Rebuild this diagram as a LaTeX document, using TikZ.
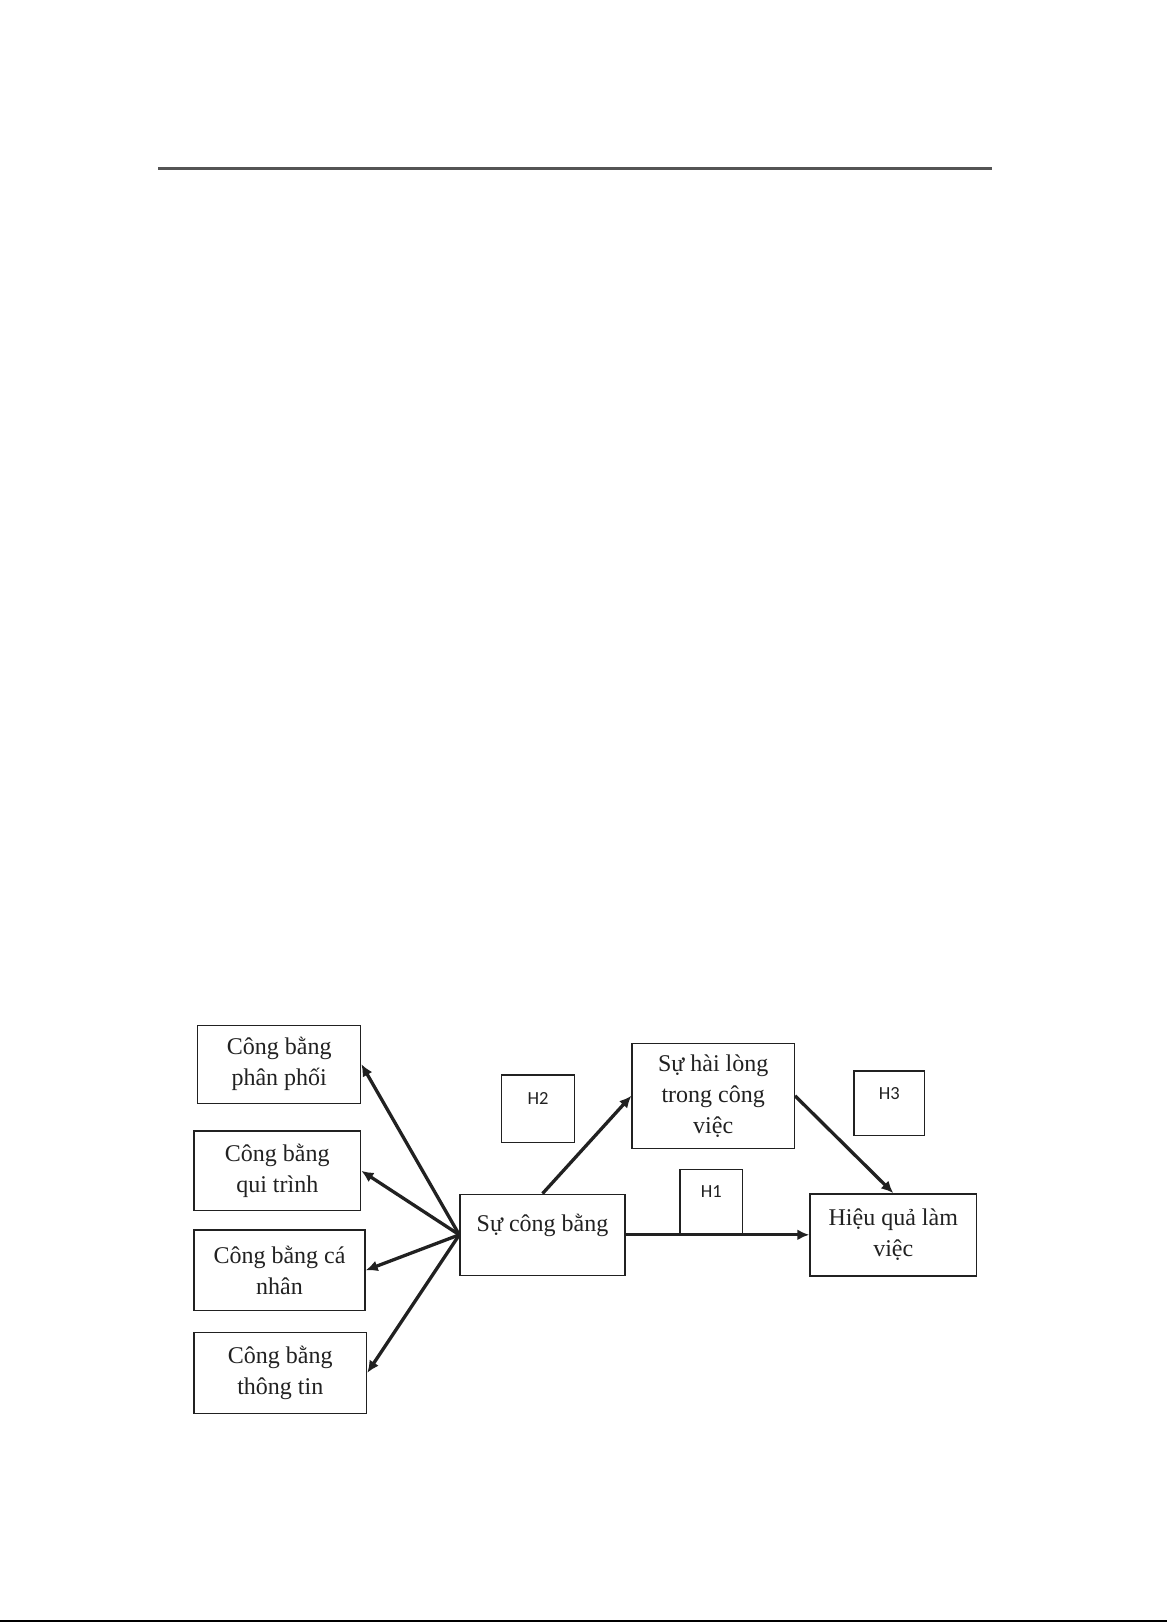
\documentclass[tikz,border=0pt]{standalone}
\usepackage{fontspec}
\setmainfont{Liberation Serif}
\newfontfamily\hfont{Carlito}
\usetikzlibrary{arrows.meta}
\definecolor{ink}{rgb}{0.13,0.13,0.13}
\definecolor{rule}{rgb}{0.33,0.33,0.33}
\begin{document}
\begin{tikzpicture}[x=1pt,y=-1pt,
  box/.style={draw=ink, line width=1.4pt, inner sep=0pt, align=center,
    font=\fontsize{24}{31}\selectfont, text=ink},
  hbox/.style={draw=ink, line width=1.4pt, inner sep=0pt,
    font=\hfont\fontsize{18.5}{20}\selectfont, text=ink,
    text height=13pt, text depth=21pt},
  link/.style={draw=ink, line width=3.3pt, -{Latex[length=12pt,width=11pt]}},
]
\fill[white] (0,0) rectangle (1169,1622);
\useasboundingbox (0,0) rectangle (1169,1622);

% header rule and bottom edge line
\coordinate (r1) at (158.3,168.7);
\coordinate (r2) at (992.3,168.7);
\draw[rule, line width=2.6pt] (r1) -- (r2);
\coordinate (e1) at (0,1621);
\coordinate (e2) at (1167,1621);
\draw[black, line width=1.8pt] (e1) -- (e2);

% left boxes
\node[box, minimum width=163pt, minimum height=78pt] (b1) at (279.2,1064.2) {Công bằng\\phân phối};
\node[box, minimum width=166.7pt, minimum height=79.7pt] (b2) at (277.3,1170.8) {Công bằng\\qui trình};
\node[box, minimum width=171pt, minimum height=80.7pt] (b3) at (279.5,1270.3) {Công bằng cá\\nhân};
\node[box, minimum width=172.7pt, minimum height=81pt] (b4) at (280.3,1372.8) {Công bằng\\thông tin};

% central boxes
\node[box, minimum width=165pt, minimum height=81pt, text height=17pt, text depth=23pt] (sc) at (542.5,1234.8) {Sự công bằng};
\node[box, minimum width=162.3pt, minimum height=105pt] (sh) at (713.2,1095.8) {Sự hài lòng\\trong công\\việc};
\node[box, minimum width=166.7pt, minimum height=82pt] (hq) at (893.3,1234.8) {Hiệu quả làm\\việc};

% hypothesis boxes
\node[hbox, minimum width=72.6pt, minimum height=67.7pt] (h2) at (538,1108.8) {H2};
\node[hbox, minimum width=70.3pt, minimum height=64.7pt] (h3) at (889.2,1103.3) {H3};
\node[hbox, minimum width=62.3pt, minimum height=64.4pt] (h1) at (711.2,1201.5) {H1};

% connectors
\draw[link] (sc.west) -- (b1.east);
\draw[link] (sc.west) -- (b2.east);
\draw[link] (sc.west) -- (b3.east);
\draw[link] (sc.west) -- (b4.east);
\draw[link] (sc.north) -- (sh.west);
\draw[link] (sc.east) -- (hq.west);
\draw[link] (sh.east) -- (hq.north);
\end{tikzpicture}
\end{document}
